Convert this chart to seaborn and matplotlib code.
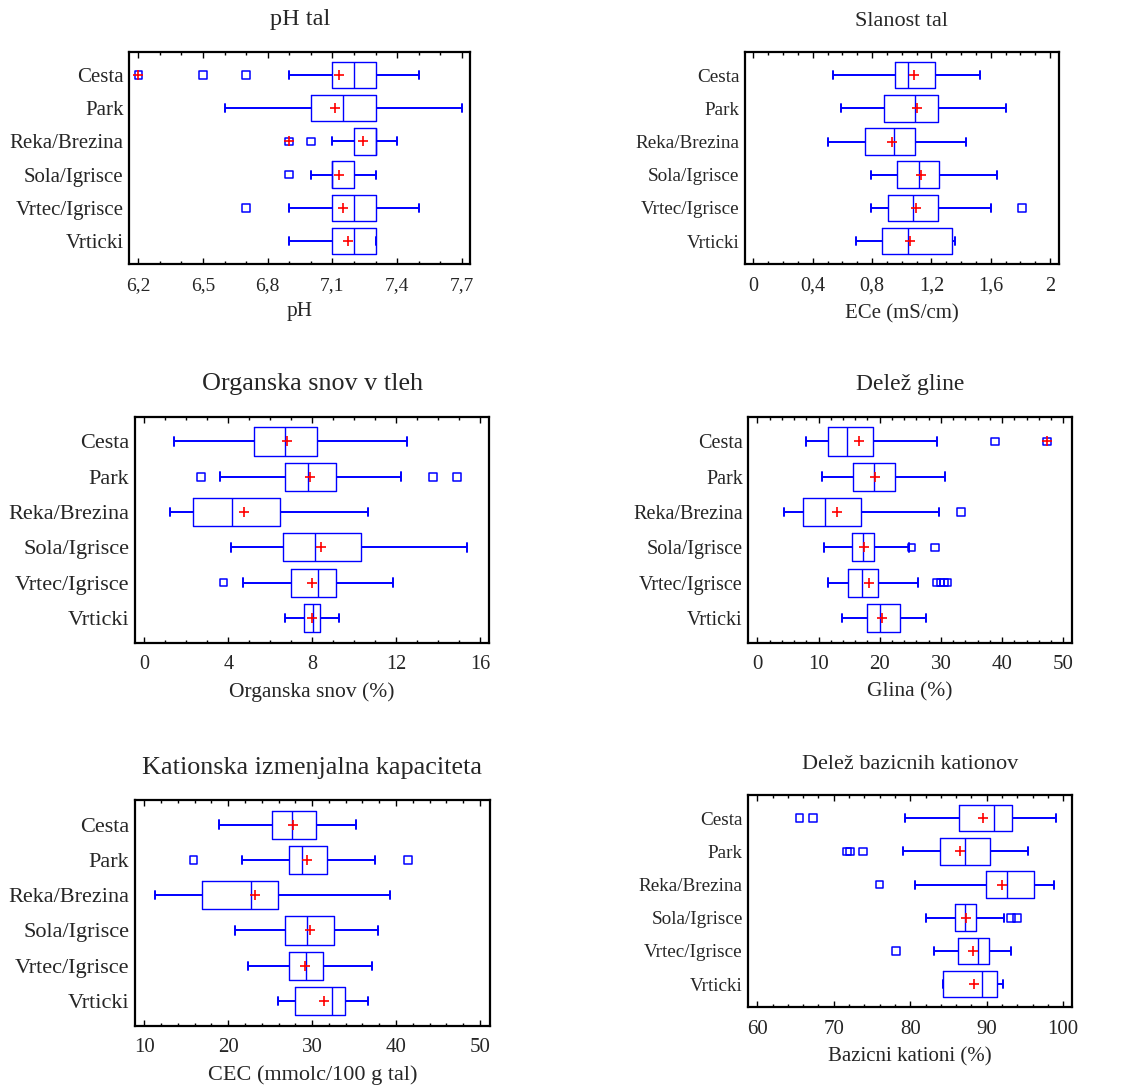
import numpy as np
import pandas as pd
import matplotlib
matplotlib.use("Agg")
import matplotlib.pyplot as plt
from matplotlib.ticker import FixedLocator, MultipleLocator, FuncFormatter
import seaborn as sns

groups = ["Cesta", "Park", "Reka/Brezina", "Sola/Igrisce", "Vrtec/Igrisce", "Vrticki"]

# pH tal
ph_low = [6.9, 6.6, 7.1, 7.0, 6.9, 6.9]
ph_q1 = [7.1, 7.0, 7.2, 7.1, 7.1, 7.1]
ph_med = [7.2, 7.15, 7.3, 7.1, 7.2, 7.2]
ph_q3 = [7.3, 7.3, 7.3, 7.2, 7.3, 7.3]
ph_high = [7.5, 7.7, 7.4, 7.3, 7.5, 7.3]
ph_mean = [7.13, 7.11, 7.24, 7.13, 7.15, 7.17]
ph_out_group = ["Cesta", "Cesta", "Cesta", "Reka/Brezina", "Reka/Brezina", "Sola/Igrisce", "Vrtec/Igrisce"]
ph_out_value = [6.2, 6.5, 6.7, 6.9, 7.0, 6.9, 6.7]
ph_out_far = [True, False, False, True, False, False, False]

# Slanost tal
ec_low = [0.54, 0.59, 0.50, 0.79, 0.79, 0.69]
ec_q1 = [0.955, 0.88, 0.755, 0.97, 0.905, 0.865]
ec_med = [1.045, 1.09, 0.945, 1.115, 1.075, 1.04]
ec_q3 = [1.225, 1.245, 1.09, 1.25, 1.245, 1.34]
ec_high = [1.53, 1.70, 1.43, 1.645, 1.605, 1.36]
ec_mean = [1.085, 1.10, 0.935, 1.13, 1.095, 1.055]
ec_out_group = ["Vrtec/Igrisce"]
ec_out_value = [1.81]
ec_out_far = [False]

# Organska snov
om_low = [1.43, 3.6, 1.22, 4.11, 4.7, 6.71]
om_q1 = [5.22, 6.71, 2.3, 6.59, 7.0, 7.62]
om_med = [6.7, 7.78, 4.17, 8.13, 8.27, 8.02]
om_q3 = [8.24, 9.13, 6.48, 10.3, 9.13, 8.38]
om_high = [12.49, 12.22, 10.65, 15.38, 11.86, 9.29]
om_mean = [6.81, 7.9, 4.73, 8.41, 8.0, 7.97]
om_out_group = ["Park", "Park", "Park", "Vrtec/Igrisce"]
om_out_value = [2.7, 13.75, 14.89, 3.78]
om_out_far = [False, False, False, False]

# Glina
cl_low = [7.95, 10.5, 4.4, 10.9, 11.6, 13.8]
cl_q1 = [11.6, 15.7, 7.46, 15.4, 14.8, 18.0]
cl_med = [14.65, 19.1, 11.06, 17.3, 17.1, 20.0]
cl_q3 = [18.9, 22.5, 17.0, 19.1, 19.66, 23.26]
cl_high = [29.3, 30.6, 29.63, 24.8, 26.3, 27.56]
cl_mean = [16.6, 19.2, 13.07, 17.4, 18.25, 20.37]
cl_out_group = ["Cesta", "Cesta", "Reka/Brezina", "Sola/Igrisce", "Sola/Igrisce",
                "Vrtec/Igrisce", "Vrtec/Igrisce", "Vrtec/Igrisce", "Vrtec/Igrisce"]
cl_out_value = [38.8, 47.3, 33.3, 25.2, 29.0, 29.3, 29.9, 30.5, 31.1]
cl_out_far = [False, True, False, False, False, False, False, False, False]

# CEC
cec_low = [18.9, 21.6, 11.3, 20.8, 22.36, 25.93]
cec_q1 = [25.26, 27.2, 16.91, 26.8, 27.2, 27.96]
cec_med = [27.64, 28.75, 22.75, 29.35, 29.23, 32.37]
cec_q3 = [30.5, 31.81, 25.93, 32.65, 31.33, 33.96]
cec_high = [35.23, 37.53, 39.24, 37.85, 37.1, 36.66]
cec_mean = [27.72, 29.39, 23.23, 29.7, 29.1, 31.37]
cec_out_group = ["Park", "Park"]
cec_out_value = [15.88, 41.39]
cec_out_far = [False, False]

# Bazicni kationi
bs_low = [79.35, 79.1, 80.65, 82.05, 83.1, 84.27]
bs_q1 = [86.4, 83.93, 89.9, 85.84, 86.27, 84.27]
bs_med = [91.02, 87.2, 92.68, 87.1, 88.85, 89.33]
bs_q3 = [93.3, 90.5, 96.17, 88.58, 90.28, 91.29]
bs_high = [99.13, 95.4, 98.78, 92.29, 93.16, 92.2]
bs_mean = [89.46, 86.5, 91.98, 87.28, 88.2, 88.28]
bs_out_group = ["Cesta", "Cesta", "Park", "Park", "Park", "Reka/Brezina",
                "Sola/Igrisce", "Sola/Igrisce", "Vrtec/Igrisce"]
bs_out_value = [65.5, 67.3, 71.7, 72.1, 73.8, 76.0, 93.2, 94.0, 78.1]
bs_out_far = [False] * 9

sns.set_style("ticks")
plt.rcParams["font.family"] = ["Liberation Serif", "DejaVu Serif"]

W, H = 1133, 1089
fig = plt.figure(figsize=(W / 100, H / 100), dpi=100)


def comma_fmt(v, pos):
    return f"{v:g}".replace(".", ",")


def draw_panel(box_px, title, xlabel, stats, mean, out_group, out_value, out_far,
               xlim, major, minor, fs):
    title_fs, ylab_fs, tick_fs, xlab_fs = fs
    l, t, r, b = box_px
    ax = fig.add_axes([l / W, 1 - b / H, (r - l) / W, (b - t) / H])

    # 5 tock na skupino -> boxplot z whis=(0,100) da tocno te statistike
    box_df = pd.DataFrame({
        "group": np.repeat(groups, 5),
        "value": np.column_stack(stats).ravel(),
    })
    sns.boxplot(data=box_df, x="value", y="group", order=groups, whis=(0, 100),
                width=0.8, fill=False, color="blue", linewidth=1.0,
                whiskerprops={"linewidth": 1.4}, capprops={"linewidth": 1.4},
                capwidths=0.24, ax=ax)

    # osamelci
    sns.stripplot(x=out_value, y=out_group, order=groups, jitter=False, marker="s",
                  size=5.5, facecolor="none", edgecolor="blue", linewidth=1.1,
                  ax=ax, zorder=3)
    far_val = [v for v, f in zip(out_value, out_far) if f]
    far_grp = [g for g, f in zip(out_group, out_far) if f]
    if far_val:
        sns.stripplot(x=far_val, y=far_grp, order=groups, jitter=False, marker="+",
                      size=7.5, color="red", linewidth=1.2, ax=ax, zorder=4)

    # povprecja
    sns.stripplot(x=mean, y=groups, order=groups, jitter=False, marker="+",
                  size=7.5, color="red", linewidth=1.2, ax=ax, zorder=4)

    ax.set_xlim(*xlim)
    ax.set_ylim(5.7, -0.7)
    ax.xaxis.set_major_locator(FixedLocator(major))
    ax.xaxis.set_minor_locator(MultipleLocator(minor))
    ax.xaxis.set_major_formatter(FuncFormatter(comma_fmt))
    ax.tick_params(axis="x", which="both", direction="in", top=True, bottom=True,
                   width=1, color="black")
    ax.tick_params(axis="x", which="major", length=4, pad=9, labelsize=tick_fs)
    ax.tick_params(axis="x", which="minor", length=2.5)
    ax.tick_params(axis="y", which="both", left=False, right=False, length=0,
                   pad=4, labelsize=ylab_fs)
    for sp in ax.spines.values():
        sp.set_linewidth(1.6)
        sp.set_color("black")
    ax.set_title(title, fontsize=title_fs, pad=19)
    ax.set_xlabel(xlabel, fontsize=xlab_fs, labelpad=6)
    ax.set_ylabel("")
    return ax


draw_panel((129.3, 51.7, 470, 264.3), "pH tal", "pH",
           [ph_low, ph_q1, ph_med, ph_q3, ph_high], ph_mean,
           ph_out_group, ph_out_value, ph_out_far,
           (6.158, 7.738), [6.2, 6.5, 6.8, 7.1, 7.4, 7.7], 0.1,
           (17.5, 15, 14, 15.3))

draw_panel((745, 52, 1059, 264.3), "Slanost tal", "ECe (mS/cm)",
           [ec_low, ec_q1, ec_med, ec_q3, ec_high], ec_mean,
           ec_out_group, ec_out_value, ec_out_far,
           (-0.056, 2.06), [0, 0.4, 0.8, 1.2, 1.6, 2], 0.1,
           (16, 13.8, 14.5, 15))

draw_panel((135, 416.7, 489.3, 642.7), "Organska snov v tleh", "Organska snov (%)",
           [om_low, om_q1, om_med, om_q3, om_high], om_mean,
           om_out_group, om_out_value, om_out_far,
           (-0.44, 16.43), [0, 4, 8, 12, 16], 1,
           (18.8, 16, 14.5, 15.5))

draw_panel((748.3, 416.7, 1071.7, 642.7), "Delež gline", "Glina (%)",
           [cl_low, cl_q1, cl_med, cl_q3, cl_high], cl_mean,
           cl_out_group, cl_out_value, cl_out_far,
           (-1.47, 51.36), [0, 10, 20, 30, 40, 50], 2,
           (17, 14.5, 15, 15.5))

draw_panel((135, 800, 490, 1025.7), "Kationska izmenjalna kapaciteta",
           "CEC (mmolc/100 g tal)",
           [cec_low, cec_q1, cec_med, cec_q3, cec_high], cec_mean,
           cec_out_group, cec_out_value, cec_out_far,
           (8.89, 51.2), [10, 20, 30, 40, 50], 2,
           (18.8, 16, 15, 16))

draw_panel((748.3, 795, 1072.3, 1007.3), "Delež bazicnih kationov", "Bazicni kationi (%)",
           [bs_low, bs_q1, bs_med, bs_q3, bs_high], bs_mean,
           bs_out_group, bs_out_value, bs_out_far,
           (58.82, 101.2), [60, 70, 80, 90, 100], 2,
           (16, 13.8, 15, 15))

fig.savefig("out.png", dpi=100)
